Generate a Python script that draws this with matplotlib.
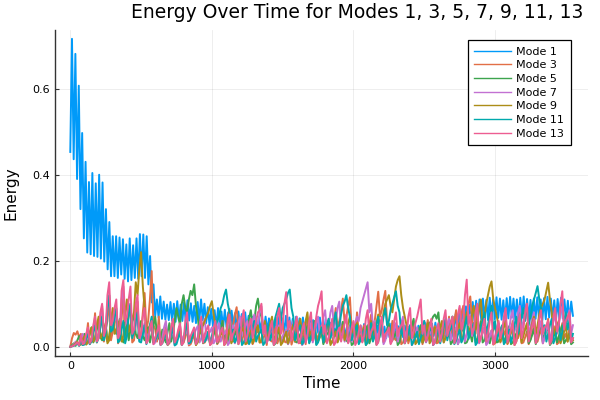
import numpy as np
import matplotlib
matplotlib.use('Agg')
import matplotlib.pyplot as plt

# energy values
mode1 = [0.453, 0.716, 0.436, 0.681, 0.390, 0.607, 0.320, 0.497, 0.252, 0.430,
         0.219, 0.383, 0.215, 0.404, 0.211, 0.380, 0.209, 0.400, 0.205, 0.382,
         0.198, 0.320, 0.180, 0.290, 0.164, 0.257, 0.164, 0.257, 0.160, 0.254,
         0.168, 0.250, 0.158, 0.238, 0.152, 0.252, 0.155, 0.236, 0.160, 0.252,
         0.158, 0.262, 0.164, 0.261, 0.160, 0.257, 0.145, 0.211, 0.103, 0.145,
         0.071, 0.110, 0.068, 0.117, 0.065, 0.105, 0.063, 0.098, 0.062, 0.104,
         0.060, 0.100, 0.058, 0.106, 0.062, 0.098, 0.060, 0.103, 0.057, 0.108,
         0.061, 0.101, 0.058, 0.095, 0.055, 0.104, 0.060, 0.110, 0.062, 0.100,
         0.055, 0.092, 0.050, 0.088, 0.048, 0.085, 0.045, 0.090, 0.047, 0.082,
         0.044, 0.086, 0.046, 0.080, 0.042, 0.084, 0.045, 0.078, 0.040, 0.082,
         0.043, 0.076, 0.040, 0.080, 0.038, 0.072, 0.036, 0.070, 0.035, 0.066,
         0.034, 0.068, 0.036, 0.064, 0.033, 0.070, 0.035, 0.066, 0.032, 0.063,
         0.034, 0.068, 0.035, 0.070, 0.036, 0.066, 0.033, 0.072, 0.035, 0.068,
         0.034, 0.065, 0.032, 0.070, 0.035, 0.066, 0.034, 0.068, 0.033, 0.064,
         0.031, 0.066, 0.033, 0.062, 0.030, 0.064, 0.032, 0.068, 0.034, 0.065,
         0.030, 0.060, 0.028, 0.056, 0.026, 0.054, 0.025, 0.052, 0.024, 0.050,
         0.022, 0.052, 0.023, 0.048, 0.020, 0.050, 0.022, 0.047, 0.021, 0.051,
         0.020, 0.049, 0.022, 0.053, 0.023, 0.048, 0.020, 0.050, 0.021, 0.046,
         0.019, 0.049, 0.021, 0.052, 0.022, 0.047, 0.020, 0.050, 0.022, 0.054,
         0.023, 0.050, 0.021, 0.048, 0.020, 0.051, 0.022, 0.049, 0.021, 0.046,
         0.020, 0.050, 0.022, 0.053, 0.024, 0.049, 0.021, 0.052, 0.023, 0.055,
         0.024, 0.051, 0.022, 0.054, 0.025, 0.056, 0.026, 0.053, 0.024, 0.057,
         0.027, 0.060, 0.030, 0.064, 0.034, 0.070, 0.038, 0.076, 0.042, 0.082,
         0.046, 0.088, 0.050, 0.094, 0.054, 0.098, 0.058, 0.104, 0.060, 0.107,
         0.062, 0.110, 0.063, 0.112, 0.065, 0.109, 0.062, 0.114, 0.066, 0.111,
         0.064, 0.115, 0.067, 0.112, 0.063, 0.108, 0.061, 0.113, 0.066, 0.116,
         0.068, 0.112, 0.064, 0.110, 0.062, 0.114, 0.067, 0.117, 0.066, 0.111,
         0.063, 0.109, 0.060, 0.112, 0.065, 0.115, 0.066, 0.110, 0.062, 0.113,
         0.064, 0.116, 0.068, 0.112, 0.063, 0.108, 0.060, 0.111, 0.064, 0.114,
         0.066, 0.110, 0.062, 0.107, 0.060, 0.105, 0.072]

mode3 = [0.000, 0.020, 0.032, 0.028, 0.036, 0.022, 0.030, 0.004, 0.012, 0.018,
         0.055, 0.006, 0.020, 0.030, 0.078, 0.010, 0.030, 0.045, 0.095, 0.012,
         0.040, 0.060, 0.110, 0.015, 0.035, 0.050, 0.085, 0.008, 0.020, 0.065,
         0.120, 0.020, 0.045, 0.070, 0.090, 0.010, 0.015, 0.055, 0.105, 0.018,
         0.030, 0.080, 0.125, 0.040, 0.060, 0.110, 0.176, 0.050, 0.040, 0.012,
         0.070, 0.008, 0.012, 0.025, 0.045, 0.004, 0.008, 0.020, 0.038, 0.006,
         0.015, 0.028, 0.050, 0.005, 0.010, 0.022, 0.042, 0.003, 0.006, 0.016,
         0.030, 0.004, 0.018, 0.030, 0.055, 0.008, 0.010, 0.020, 0.035, 0.004,
         0.020, 0.030, 0.048, 0.006, 0.012, 0.035, 0.060, 0.015, 0.030, 0.065,
         0.088, 0.035, 0.050, 0.075, 0.092, 0.040, 0.025, 0.012, 0.040, 0.006,
         0.008, 0.025, 0.035, 0.006, 0.015, 0.032, 0.050, 0.010, 0.010, 0.022,
         0.028, 0.004, 0.040, 0.015, 0.012, 0.030, 0.045, 0.008, 0.020, 0.038,
         0.055, 0.012, 0.010, 0.026, 0.038, 0.005, 0.018, 0.032, 0.048, 0.010,
         0.008, 0.020, 0.032, 0.006, 0.060, 0.025, 0.015, 0.030, 0.042, 0.008,
         0.025, 0.035, 0.050, 0.010, 0.012, 0.040, 0.065, 0.020, 0.040, 0.060,
         0.090, 0.045, 0.060, 0.085, 0.112, 0.055, 0.070, 0.095, 0.115, 0.040,
         0.045, 0.015, 0.080, 0.030, 0.020, 0.035, 0.050, 0.010, 0.030, 0.052,
         0.075, 0.035, 0.060, 0.095, 0.128, 0.070, 0.085, 0.110, 0.130, 0.055,
         0.040, 0.012, 0.060, 0.020, 0.015, 0.030, 0.045, 0.006, 0.010, 0.025,
         0.038, 0.008, 0.022, 0.040, 0.055, 0.010, 0.012, 0.028, 0.040, 0.006,
         0.018, 0.040, 0.062, 0.015, 0.025, 0.035, 0.048, 0.008, 0.010, 0.022,
         0.035, 0.020, 0.050, 0.030, 0.070, 0.025, 0.040, 0.060, 0.085, 0.035,
         0.055, 0.075, 0.095, 0.050, 0.070, 0.100, 0.117, 0.060, 0.050, 0.030,
         0.080, 0.020, 0.020, 0.032, 0.045, 0.008, 0.012, 0.025, 0.038, 0.005,
         0.008, 0.030, 0.052, 0.010, 0.020, 0.028, 0.040, 0.006, 0.015, 0.038,
         0.060, 0.012, 0.030, 0.020, 0.045, 0.008, 0.010, 0.022, 0.035, 0.006,
         0.018, 0.032, 0.050, 0.010, 0.012, 0.028, 0.042, 0.008, 0.025, 0.040,
         0.065, 0.015, 0.020, 0.035, 0.048, 0.006, 0.010, 0.030, 0.055, 0.020,
         0.030, 0.012, 0.045, 0.010, 0.020]

mode5 = [0.000, 0.004, 0.008, 0.002, 0.015, 0.025, 0.005, 0.018, 0.030, 0.006,
         0.012, 0.030, 0.045, 0.010, 0.020, 0.040, 0.060, 0.022, 0.015, 0.035,
         0.050, 0.012, 0.025, 0.055, 0.080, 0.040, 0.030, 0.050, 0.065, 0.020,
         0.010, 0.030, 0.055, 0.015, 0.040, 0.060, 0.075, 0.030, 0.020, 0.042,
         0.060, 0.025, 0.015, 0.030, 0.045, 0.010, 0.030, 0.050, 0.070, 0.028,
         0.020, 0.012, 0.040, 0.020, 0.010, 0.035, 0.055, 0.012, 0.030, 0.060,
         0.090, 0.070, 0.050, 0.100, 0.120, 0.090, 0.080, 0.110, 0.130, 0.120,
         0.145, 0.095, 0.070, 0.030, 0.040, 0.010, 0.015, 0.025, 0.035, 0.006,
         0.010, 0.028, 0.045, 0.008, 0.020, 0.038, 0.060, 0.015, 0.030, 0.012,
         0.050, 0.020, 0.012, 0.028, 0.040, 0.006, 0.025, 0.045, 0.065, 0.030,
         0.040, 0.065, 0.085, 0.050, 0.060, 0.095, 0.112, 0.080, 0.070, 0.030,
         0.050, 0.012, 0.020, 0.028, 0.035, 0.004, 0.008, 0.025, 0.045, 0.010,
         0.015, 0.025, 0.038, 0.006, 0.022, 0.040, 0.055, 0.012, 0.010, 0.020,
         0.030, 0.005, 0.018, 0.035, 0.048, 0.010, 0.025, 0.042, 0.060, 0.015,
         0.012, 0.022, 0.035, 0.006, 0.020, 0.030, 0.045, 0.008, 0.010, 0.025,
         0.040, 0.012, 0.028, 0.045, 0.058, 0.020, 0.015, 0.010, 0.032, 0.004,
         0.008, 0.025, 0.042, 0.010, 0.018, 0.012, 0.030, 0.040, 0.050, 0.008,
         0.020, 0.030, 0.038, 0.005, 0.012, 0.028, 0.045, 0.010, 0.025, 0.040,
         0.055, 0.012, 0.015, 0.025, 0.035, 0.004, 0.010, 0.030, 0.048, 0.008,
         0.022, 0.030, 0.040, 0.050, 0.065, 0.020, 0.030, 0.040, 0.050, 0.010,
         0.020, 0.032, 0.045, 0.055, 0.060, 0.070, 0.075, 0.065, 0.080, 0.030,
         0.050, 0.012, 0.025, 0.032, 0.040, 0.006, 0.012, 0.022, 0.035, 0.006,
         0.018, 0.035, 0.050, 0.008, 0.010, 0.020, 0.030, 0.012, 0.045, 0.010,
         0.020, 0.040, 0.060, 0.010, 0.015, 0.028, 0.040, 0.008, 0.025, 0.040,
         0.055, 0.010, 0.012, 0.025, 0.038, 0.008, 0.022, 0.035, 0.048, 0.006,
         0.010, 0.020, 0.030, 0.045, 0.065, 0.020, 0.035, 0.042, 0.050, 0.008,
         0.015, 0.028, 0.042, 0.006, 0.020, 0.040, 0.058, 0.012, 0.030, 0.038,
         0.045, 0.004, 0.010, 0.022, 0.036, 0.010, 0.024, 0.038, 0.050, 0.008,
         0.015, 0.022, 0.030, 0.006, 0.010]

mode7 = [0.000, 0.002, 0.005, 0.012, 0.010, 0.004, 0.020, 0.030, 0.008, 0.015,
         0.035, 0.010, 0.015, 0.040, 0.060, 0.020, 0.025, 0.070, 0.090, 0.030,
         0.040, 0.095, 0.120, 0.045, 0.050, 0.060, 0.080, 0.020, 0.030, 0.110,
         0.140, 0.050, 0.060, 0.085, 0.100, 0.030, 0.035, 0.050, 0.075, 0.015,
         0.020, 0.040, 0.055, 0.010, 0.030, 0.038, 0.045, 0.006, 0.010, 0.025,
         0.040, 0.008, 0.020, 0.045, 0.060, 0.012, 0.015, 0.028, 0.035, 0.004,
         0.010, 0.035, 0.050, 0.012, 0.025, 0.030, 0.040, 0.006, 0.012, 0.020,
         0.030, 0.040, 0.048, 0.010, 0.020, 0.050, 0.065, 0.015, 0.030, 0.035,
         0.045, 0.008, 0.015, 0.040, 0.055, 0.012, 0.025, 0.030, 0.038, 0.004,
         0.010, 0.035, 0.050, 0.008, 0.020, 0.055, 0.070, 0.025, 0.040, 0.050,
         0.060, 0.015, 0.030, 0.060, 0.075, 0.040, 0.050, 0.080, 0.094, 0.030,
         0.045, 0.010, 0.020, 0.028, 0.035, 0.006, 0.012, 0.040, 0.050, 0.010,
         0.025, 0.032, 0.040, 0.006, 0.015, 0.045, 0.060, 0.012, 0.030, 0.038,
         0.045, 0.004, 0.010, 0.025, 0.035, 0.040, 0.055, 0.010, 0.025, 0.055,
         0.070, 0.025, 0.040, 0.070, 0.085, 0.035, 0.050, 0.080, 0.095, 0.045,
         0.060, 0.090, 0.105, 0.030, 0.040, 0.012, 0.020, 0.038, 0.050, 0.012,
         0.030, 0.055, 0.070, 0.060, 0.090, 0.105, 0.120, 0.135, 0.150, 0.080,
         0.100, 0.045, 0.060, 0.012, 0.030, 0.038, 0.045, 0.006, 0.015, 0.030,
         0.040, 0.008, 0.020, 0.042, 0.055, 0.012, 0.030, 0.055, 0.070, 0.020,
         0.035, 0.040, 0.050, 0.004, 0.012, 0.030, 0.045, 0.010, 0.025, 0.045,
         0.060, 0.010, 0.020, 0.030, 0.040, 0.004, 0.010, 0.025, 0.035, 0.042,
         0.050, 0.010, 0.025, 0.050, 0.065, 0.015, 0.030, 0.038, 0.045, 0.006,
         0.015, 0.040, 0.055, 0.012, 0.030, 0.060, 0.075, 0.025, 0.040, 0.050,
         0.060, 0.008, 0.020, 0.035, 0.045, 0.004, 0.010, 0.025, 0.038, 0.010,
         0.025, 0.042, 0.055, 0.020, 0.035, 0.055, 0.070, 0.025, 0.040, 0.070,
         0.085, 0.035, 0.050, 0.080, 0.095, 0.040, 0.060, 0.085, 0.100, 0.030,
         0.045, 0.065, 0.080, 0.015, 0.030, 0.045, 0.060, 0.008, 0.020, 0.040,
         0.050, 0.012, 0.035, 0.060, 0.075, 0.030, 0.050, 0.080, 0.094, 0.040,
         0.070, 0.060, 0.085, 0.030, 0.050]

mode9 = [0.000, 0.002, 0.004, 0.008, 0.012, 0.003, 0.006, 0.015, 0.025, 0.005,
         0.010, 0.030, 0.045, 0.012, 0.020, 0.050, 0.070, 0.020, 0.030, 0.040,
         0.055, 0.008, 0.015, 0.060, 0.090, 0.030, 0.040, 0.050, 0.060, 0.012,
         0.025, 0.080, 0.110, 0.035, 0.050, 0.065, 0.080, 0.150, 0.120, 0.180,
         0.220, 0.140, 0.090, 0.030, 0.040, 0.050, 0.060, 0.010, 0.020, 0.035,
         0.045, 0.006, 0.010, 0.025, 0.035, 0.005, 0.015, 0.040, 0.050, 0.010,
         0.020, 0.030, 0.040, 0.005, 0.012, 0.040, 0.055, 0.010, 0.025, 0.020,
         0.030, 0.004, 0.010, 0.030, 0.045, 0.050, 0.060, 0.070, 0.080, 0.095,
         0.106, 0.075, 0.050, 0.012, 0.020, 0.028, 0.035, 0.004, 0.010, 0.030,
         0.040, 0.008, 0.018, 0.040, 0.055, 0.015, 0.030, 0.038, 0.045, 0.006,
         0.012, 0.025, 0.038, 0.008, 0.020, 0.040, 0.050, 0.010, 0.015, 0.045,
         0.060, 0.025, 0.035, 0.055, 0.070, 0.012, 0.025, 0.035, 0.045, 0.004,
         0.010, 0.022, 0.035, 0.008, 0.020, 0.040, 0.052, 0.012, 0.030, 0.050,
         0.065, 0.030, 0.040, 0.060, 0.080, 0.025, 0.035, 0.042, 0.050, 0.006,
         0.015, 0.030, 0.040, 0.010, 0.025, 0.045, 0.060, 0.004, 0.012, 0.025,
         0.035, 0.010, 0.020, 0.038, 0.050, 0.015, 0.030, 0.055, 0.070, 0.030,
         0.040, 0.048, 0.055, 0.008, 0.020, 0.032, 0.045, 0.004, 0.010, 0.040,
         0.060, 0.020, 0.030, 0.055, 0.075, 0.040, 0.050, 0.080, 0.100, 0.110,
         0.120, 0.095, 0.080, 0.110, 0.140, 0.155, 0.164, 0.120, 0.090, 0.070,
         0.050, 0.015, 0.020, 0.030, 0.040, 0.006, 0.012, 0.025, 0.035, 0.010,
         0.025, 0.040, 0.055, 0.008, 0.015, 0.030, 0.045, 0.012, 0.030, 0.045,
         0.060, 0.010, 0.020, 0.030, 0.040, 0.055, 0.070, 0.020, 0.035, 0.045,
         0.055, 0.012, 0.025, 0.055, 0.080, 0.030, 0.045, 0.075, 0.095, 0.040,
         0.060, 0.090, 0.110, 0.050, 0.070, 0.100, 0.120, 0.140, 0.152, 0.110,
         0.090, 0.070, 0.050, 0.012, 0.030, 0.045, 0.060, 0.008, 0.020, 0.032,
         0.045, 0.004, 0.012, 0.028, 0.040, 0.010, 0.025, 0.040, 0.055, 0.020,
         0.035, 0.055, 0.070, 0.030, 0.050, 0.075, 0.090, 0.100, 0.110, 0.130,
         0.149, 0.110, 0.080, 0.030, 0.040, 0.050, 0.060, 0.008, 0.020, 0.035,
         0.050, 0.012, 0.030, 0.020, 0.015]

mode11 = [0.000, 0.001, 0.002, 0.006, 0.008, 0.002, 0.015, 0.004, 0.005, 0.020,
          0.030, 0.006, 0.012, 0.035, 0.050, 0.010, 0.020, 0.045, 0.070, 0.015,
          0.030, 0.090, 0.120, 0.035, 0.040, 0.070, 0.090, 0.010, 0.015, 0.040,
          0.060, 0.008, 0.025, 0.075, 0.100, 0.020, 0.035, 0.060, 0.080, 0.012,
          0.010, 0.030, 0.050, 0.006, 0.020, 0.050, 0.070, 0.010, 0.015, 0.025,
          0.040, 0.004, 0.008, 0.020, 0.030, 0.005, 0.012, 0.030, 0.045, 0.003,
          0.006, 0.020, 0.035, 0.004, 0.015, 0.040, 0.055, 0.008, 0.010, 0.025,
          0.040, 0.006, 0.020, 0.045, 0.060, 0.010, 0.012, 0.020, 0.035, 0.008,
          0.025, 0.040, 0.050, 0.060, 0.070, 0.090, 0.100, 0.120, 0.133, 0.100,
          0.080, 0.030, 0.040, 0.010, 0.020, 0.035, 0.045, 0.004, 0.010, 0.022,
          0.035, 0.006, 0.015, 0.045, 0.060, 0.012, 0.025, 0.032, 0.040, 0.004,
          0.010, 0.035, 0.050, 0.015, 0.030, 0.050, 0.070, 0.085, 0.100, 0.060,
          0.090, 0.100, 0.110, 0.125, 0.133, 0.090, 0.070, 0.015, 0.030, 0.040,
          0.050, 0.006, 0.012, 0.028, 0.040, 0.008, 0.020, 0.038, 0.055, 0.004,
          0.010, 0.030, 0.045, 0.010, 0.025, 0.050, 0.065, 0.020, 0.035, 0.060,
          0.080, 0.030, 0.050, 0.075, 0.095, 0.105, 0.120, 0.090, 0.070, 0.015,
          0.030, 0.040, 0.050, 0.006, 0.015, 0.030, 0.040, 0.004, 0.010, 0.040,
          0.055, 0.012, 0.025, 0.050, 0.070, 0.030, 0.045, 0.070, 0.090, 0.050,
          0.060, 0.085, 0.100, 0.115, 0.129, 0.095, 0.080, 0.030, 0.040, 0.008,
          0.020, 0.035, 0.050, 0.004, 0.012, 0.025, 0.035, 0.006, 0.020, 0.040,
          0.060, 0.012, 0.030, 0.038, 0.045, 0.004, 0.010, 0.028, 0.040, 0.008,
          0.025, 0.050, 0.065, 0.015, 0.035, 0.042, 0.050, 0.006, 0.015, 0.028,
          0.040, 0.010, 0.020, 0.050, 0.070, 0.018, 0.035, 0.045, 0.055, 0.004,
          0.010, 0.030, 0.045, 0.060, 0.080, 0.030, 0.050, 0.075, 0.095, 0.040,
          0.060, 0.015, 0.030, 0.040, 0.050, 0.006, 0.012, 0.028, 0.040, 0.010,
          0.025, 0.050, 0.070, 0.030, 0.045, 0.070, 0.090, 0.060, 0.100, 0.050,
          0.070, 0.095, 0.110, 0.125, 0.141, 0.110, 0.090, 0.040, 0.050, 0.012,
          0.030, 0.050, 0.065, 0.008, 0.020, 0.040, 0.055, 0.015, 0.035, 0.060,
          0.080, 0.040, 0.060, 0.012, 0.030]

mode13 = [0.000, 0.001, 0.003, 0.006, 0.010, 0.003, 0.025, 0.006, 0.008, 0.030,
          0.045, 0.008, 0.015, 0.050, 0.070, 0.012, 0.020, 0.080, 0.100, 0.025,
          0.040, 0.120, 0.150, 0.050, 0.060, 0.090, 0.110, 0.020, 0.030, 0.130,
          0.155, 0.060, 0.070, 0.110, 0.140, 0.030, 0.040, 0.100, 0.120, 0.020,
          0.030, 0.070, 0.090, 0.008, 0.015, 0.045, 0.060, 0.006, 0.020, 0.035,
          0.050, 0.004, 0.008, 0.028, 0.040, 0.005, 0.012, 0.045, 0.065, 0.010,
          0.020, 0.040, 0.055, 0.004, 0.010, 0.060, 0.080, 0.012, 0.025, 0.035,
          0.045, 0.006, 0.015, 0.050, 0.070, 0.010, 0.030, 0.040, 0.050, 0.004,
          0.008, 0.045, 0.060, 0.010, 0.020, 0.035, 0.045, 0.004, 0.012, 0.055,
          0.075, 0.015, 0.030, 0.040, 0.055, 0.006, 0.015, 0.065, 0.085, 0.012,
          0.025, 0.050, 0.065, 0.020, 0.040, 0.060, 0.080, 0.085, 0.100, 0.030,
          0.050, 0.010, 0.020, 0.045, 0.060, 0.004, 0.012, 0.070, 0.090, 0.030,
          0.050, 0.100, 0.127, 0.040, 0.060, 0.015, 0.035, 0.050, 0.070, 0.008,
          0.015, 0.040, 0.055, 0.010, 0.025, 0.060, 0.080, 0.015, 0.040, 0.070,
          0.095, 0.110, 0.129, 0.030, 0.050, 0.008, 0.020, 0.045, 0.065, 0.004,
          0.010, 0.035, 0.045, 0.012, 0.030, 0.055, 0.075, 0.008, 0.020, 0.045,
          0.060, 0.004, 0.012, 0.035, 0.050, 0.010, 0.025, 0.065, 0.085, 0.020,
          0.035, 0.045, 0.055, 0.004, 0.010, 0.050, 0.070, 0.012, 0.030, 0.035,
          0.045, 0.006, 0.015, 0.060, 0.080, 0.025, 0.040, 0.050, 0.060, 0.008,
          0.020, 0.070, 0.090, 0.020, 0.035, 0.055, 0.070, 0.090, 0.110, 0.030,
          0.050, 0.012, 0.025, 0.045, 0.065, 0.004, 0.010, 0.040, 0.055, 0.012,
          0.030, 0.065, 0.085, 0.025, 0.040, 0.055, 0.070, 0.008, 0.020, 0.075,
          0.095, 0.040, 0.060, 0.120, 0.156, 0.050, 0.070, 0.030, 0.040, 0.080,
          0.100, 0.010, 0.020, 0.045, 0.065, 0.012, 0.030, 0.060, 0.080, 0.006,
          0.015, 0.040, 0.060, 0.020, 0.035, 0.070, 0.090, 0.010, 0.025, 0.040,
          0.055, 0.004, 0.012, 0.055, 0.075, 0.020, 0.040, 0.080, 0.100, 0.012,
          0.030, 0.050, 0.065, 0.008, 0.020, 0.065, 0.085, 0.030, 0.045, 0.050,
          0.060, 0.006, 0.015, 0.070, 0.090, 0.035, 0.050, 0.100, 0.129, 0.040,
          0.060, 0.070, 0.080, 0.010, 0.020]

labels = ['Mode 1', 'Mode 3', 'Mode 5', 'Mode 7', 'Mode 9', 'Mode 11', 'Mode 13']
colors = ['#009af9', '#e26f46', '#3da44d', '#c271d2', '#ac8d18', '#00a9ad', '#ed5d92']
t_end = 3552

fig = plt.figure(figsize=(6, 4), dpi=100)
ax = fig.add_axes([0.092, 0.11, 0.888, 0.815])

series = [mode1, mode3, mode5, mode7, mode9, mode11, mode13]
for vals, lab, c in zip(series, labels, colors):
    t = np.linspace(0, t_end, len(vals))
    ax.plot(t, vals, color=c, lw=1.4, label=lab)

ax.set_xlim(-0.03 * t_end, 1.03 * t_end)
ax.set_ylim(-0.0215, 0.7365)
ax.set_xticks([0, 1000, 2000, 3000])
ax.set_yticks([0.0, 0.2, 0.4, 0.6])
ax.set_yticklabels(['0.0', '0.2', '0.4', '0.6'])
ax.grid(True, color='black', alpha=0.08, lw=0.6)
ax.tick_params(direction='in', length=3, labelsize=8, color='#333333')
for s in ['top', 'right']:
    ax.spines[s].set_visible(False)
for s in ['left', 'bottom']:
    ax.spines[s].set_color('#333333')
    ax.spines[s].set_linewidth(1.0)

ax.set_xlabel('Time', fontsize=11)
ax.set_ylabel('Energy', fontsize=11, labelpad=10)
fig.text(0.595, 0.968, 'Energy Over Time for Modes 1, 3, 5, 7, 9, 11, 13',
         fontsize=13.5, ha='center', va='center')

leg = ax.legend(loc='upper right', bbox_to_anchor=(571 / 600, 1 - 40 / 400),
                bbox_transform=fig.transFigure, borderaxespad=0, fontsize=8,
                fancybox=False, framealpha=1, edgecolor='black',
                handlelength=3.3, labelspacing=0.33, handletextpad=0.5,
                borderpad=0.6)
leg.get_frame().set_linewidth(0.9)
for line in leg.get_lines():
    line.set_linewidth(1.0)

fig.savefig('out.png', dpi=100)
